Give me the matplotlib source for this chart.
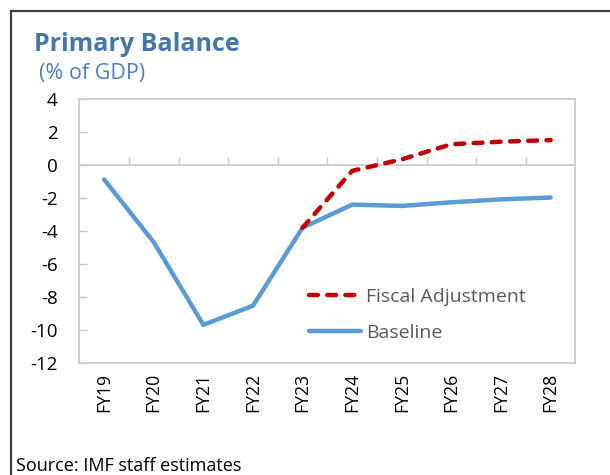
import matplotlib.pyplot as plt
from matplotlib.patches import Rectangle

plt.rcParams['font.family'] = ['Open Sans', 'DejaVu Sans']
plt.rcParams['figure.facecolor'] = 'white'
plt.rcParams['axes.facecolor'] = 'white'

years = ['FY19', 'FY20', 'FY21', 'FY22', 'FY23', 'FY24', 'FY25', 'FY26', 'FY27', 'FY28']
baseline = [-0.87, -4.68, -9.7, -8.54, -3.8, -2.4, -2.48, -2.26, -2.08, -1.97]
fiscal_years = ['FY23', 'FY24', 'FY25', 'FY26', 'FY27', 'FY28']
fiscal_adjustment = [-3.8, -0.35, 0.35, 1.27, 1.42, 1.52]
y_ticks = [4, 2, 0, -2, -4, -6, -8, -10, -12]

grey = '#c8c8c8'
x = list(range(len(years)))
fiscal_x = [years.index(y) for y in fiscal_years]

fig = plt.figure(figsize=(6.1, 4.75), dpi=100)
ax = fig.add_axes([0.130, 0.2364, 0.8134, 0.5547])

ax.plot(fiscal_x, fiscal_adjustment, color='#c00000', lw=3.2, ls=(0, (2.0, 2.1)),
        dash_capstyle='round', label='Fiscal Adjustment', zorder=3)
ax.plot(x, baseline, color='#5b9bd5', lw=3.2, solid_capstyle='round',
        label='Baseline', zorder=2)

ax.set_xlim(-0.5, len(years) - 0.5)
ax.set_ylim(-12, 4)
ax.set_yticks(y_ticks)
ax.set_yticklabels([str(v) for v in y_ticks])
ax.tick_params(axis='y', direction='in', length=5.5, width=1, color=grey,
               labelsize=13.5, pad=15.5, labelcolor='black')

# category axis crosses at zero, ticks between categories
ax.spines['bottom'].set_position(('data', 0))
ax.set_xticks([i + 0.5 for i in x[:-1]])
ax.tick_params(axis='x', direction='in', length=6, width=1, color=grey,
               labelbottom=False)
for side in ['left', 'right', 'top', 'bottom']:
    ax.spines[side].set_color(grey)
    ax.spines[side].set_linewidth(1.2)

sec = ax.secondary_xaxis('bottom')
sec.set_xticks(x)
sec.set_xticklabels(years, rotation=90)
sec.tick_params(length=0, pad=7, labelsize=12.7)
sec.spines['bottom'].set_color(grey)
sec.spines['bottom'].set_linewidth(1.2)

ax.legend(loc='upper left', bbox_to_anchor=(0.463, 0.285), frameon=False,
          fontsize=14, labelcolor='#595959', handlelength=2.67,
          handletextpad=0.26, labelspacing=0.95, borderaxespad=0, borderpad=0)

fig.text(0.056, 0.893, 'Primary Balance', fontsize=18, fontweight='bold',
         color='#4677ab', va='baseline')
fig.text(0.064, 0.833, '(% of GDP)', fontsize=15.5, color='#4f81bd', va='baseline')
fig.text(0.027, 0.008, 'Source: IMF staff estimates', fontsize=13, color='black',
         va='baseline')

fig.patches.append(Rectangle((11 / 610, -0.1), 1.2, 1.1 - 11 / 475,
                             transform=fig.transFigure, fill=False,
                             edgecolor='#404040', lw=1.6, zorder=0))

plt.savefig('out.png', dpi=100)
